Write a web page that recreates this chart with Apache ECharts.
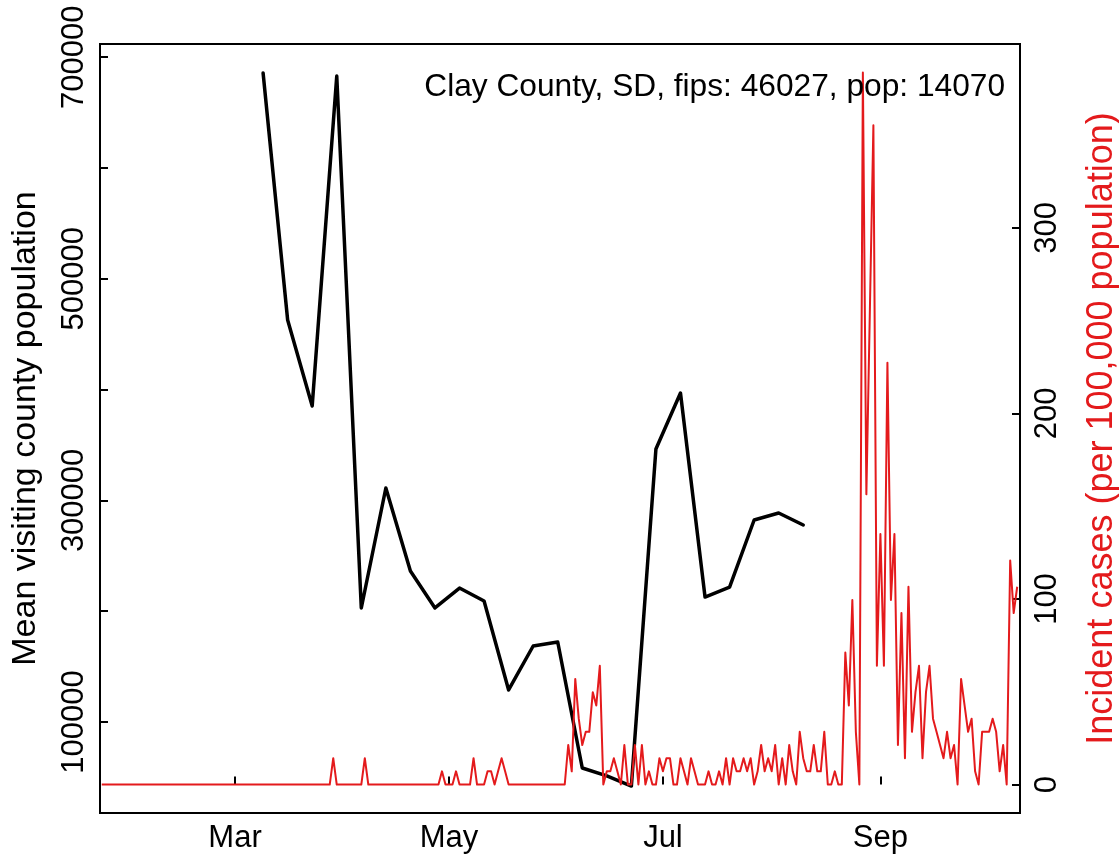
<!DOCTYPE html>
<html><head><meta charset="utf-8">
<script src="https://cdn.jsdelivr.net/npm/echarts@6/dist/echarts.min.js"></script>
<style>html,body{margin:0;padding:0;background:#fff}#c{width:1119px;height:858px}</style>
</head><body><div id="c"></div>
<script>
const titleText = "Clay County, SD, fips: 46027, pop: 14070";
const leftAxisName = "Mean visiting county population";
const rightAxisName = "Incident cases (per 100,000 population)";

// weekly mean visiting county population (black line)
const visitDates = ["2020-03-09","2020-03-16","2020-03-23","2020-03-30","2020-04-06","2020-04-13",
  "2020-04-20","2020-04-27","2020-05-04","2020-05-11","2020-05-18","2020-05-25","2020-06-01",
  "2020-06-08","2020-06-15","2020-06-22","2020-06-29","2020-07-06","2020-07-13","2020-07-20",
  "2020-07-27","2020-08-03","2020-08-10"];
const visitValues = [685700,462800,385200,683000,202900,311200,236300,202900,220900,209200,
  128900,168600,172200,58500,51300,42200,346400,396900,212800,221800,282300,288600,277800];

// daily incident cases per 100,000 (red line), starting at caseStartDate
const caseStartDate = "2020-01-23";
const caseValues = [
  0,0,0,0,0,0,0,0,0,0, 0,0,0,0,0,0,0,0,0,0, 0,0,0,0,0,0,0,0,0,0,
  0,0,0,0,0,0,0,0,0,0, 0,0,0,0,0,0,0,0,0,0, 0,0,0,0,0,0,0,0,0,0,
  0,0,0,0,0,0,
  14.2, 0,0,0,0,0,0,0,0, 14.2,
  0,0,0,0,0,0,0,0,0,0, 0,0,0,0,0,0,0,0,0,0, 0,
  7.1, 0,0,0, 7.1, 0,0,0,0, 14.2, 0,0,0,
  7.1,7.1,0,7.1,14.2,7.1,
  0,0,0,0,0,0,0,0,0,0, 0,0,0,0,0,0,0,
  21.3,7.1,56.9,35.5,21.3,28.4,28.4,49.8,42.6,64.0,
  0,7.1,7.1,14.2,7.1,0,21.3,0,0,21.3,
  0,21.3,0,7.1,0,0,14.2,7.1,14.2,14.2,
  0,0,14.2,7.1,0,14.2,7.1,0,0,0,
  7.1,0,0,7.1,0,14.2,0,14.2,7.1,7.1,
  14.2,7.1,14.2,0,7.1,21.3,7.1,14.2,7.1,21.3,
  0,14.2,0,21.3,7.1,0,28.4,14.2,7.1,7.1,
  21.3,7.1,7.1,28.4,0,0,7.1,0,0,71.1,
  42.6,99.5,28.4,0,383.8,156.4,255.9,355.4,64.0,135.0,
  64.0,227.4,99.5,135.0,21.3,92.4,14.2,106.6,28.4,49.8,
  64.0,14.2,49.8,64.0,35.5,28.4,21.3,14.2,28.4,14.2,
  21.3,0,56.9,42.6,28.4,35.5,7.1,0,28.4,28.4,
  28.4,35.5,28.4,7.1,21.3,0,120.8,92.4,106.6
];

const xTickDates = ["2020-03-01","2020-05-01","2020-07-01","2020-09-01"];
const xTickLabels = ["Mar","May","Jul","Sep"];
const leftTickValues = [100000,200000,300000,400000,500000,600000,700000];
const leftLabelValues = [100000,300000,500000,700000];
const rightTickValues = [0,100,200,300];

const DAY = 864e5, ORIGIN = Date.UTC(2020,0,1);
const dayOf = s => (Date.parse(s + "T00:00:00Z") - ORIGIN) / DAY;
const visitData = visitDates.map((d,i) => [dayOf(d), visitValues[i]]);
const caseStart = dayOf(caseStartDate);
const caseData = caseValues.map((v,i) => [caseStart + i, v]);
const xTickDays = xTickDates.map(dayOf);

const FONT = "'Liberation Sans', Arial, Helvetica, sans-serif";
const FS = 31;
const chart = echarts.init(document.getElementById('c'), null, {renderer:'canvas'});
chart.setOption({
  animation: false,
  backgroundColor: '#fff',
  textStyle: {fontFamily: FONT},
  title: {
    text: titleText, right: 114, top: 71, padding: 0,
    textStyle: {fontFamily: FONT, fontSize: 31.7, fontWeight: 'normal', color: '#000'}
  },
  grid: {left: 100, right: 99, top: 44, bottom: 45, show: true, borderColor: '#000', borderWidth: 2,
    backgroundColor: 'transparent', containLabel: false, outerBoundsMode: 'none'},
  xAxis: {
    type: 'value', min: 21.5, max: 283.8,
    axisLine: {show: false},
    splitLine: {show: false},
    axisTick: {show: true, inside: true, length: 8, lineStyle: {color: '#000', width: 2}, customValues: xTickDays},
    axisLabel: {show: true, margin: 10, fontSize: FS, fontFamily: FONT, color: '#000', customValues: xTickDays,
      formatter: v => { const i = xTickDays.indexOf(v); return i >= 0 ? xTickLabels[i] : ''; }}
  },
  yAxis: [{
    type: 'value', position: 'left', min: 17870, max: 711900,
    name: leftAxisName, nameLocation: 'middle', nameGap: 57, nameRotate: 90,
    nameTextStyle: {fontFamily: FONT, fontSize: 34, color: '#000'},
    axisLine: {show: false}, splitLine: {show: false},
    axisTick: {show: true, inside: true, length: 8, lineStyle: {color: '#000', width: 2}, customValues: leftTickValues},
    axisLabel: {show: true, rotate: 90, margin: 10, fontSize: FS, fontFamily: FONT, color: '#000', customValues: leftLabelValues,
      formatter: v => String(v)}
  }, {
    type: 'value', position: 'right', min: -15.35, max: 399.15,
    name: rightAxisName, nameLocation: 'middle', nameGap: 64, nameRotate: 90,
    nameTextStyle: {fontFamily: FONT, fontSize: 36, color: '#E41A1C'},
    axisLine: {show: false}, splitLine: {show: false},
    axisTick: {show: true, inside: true, length: 8, lineStyle: {color: '#000', width: 2}, customValues: rightTickValues},
    axisLabel: {show: true, rotate: 90, margin: 12, fontSize: FS, fontFamily: FONT, color: '#000', customValues: rightTickValues,
      formatter: v => String(v)}
  }],
  series: [{
    type: 'line', yAxisIndex: 0, data: visitData, showSymbol: false, symbol: 'none', z: 2,
    lineStyle: {color: '#000', width: 3.5, cap: 'round', join: 'round'}
  }, {
    type: 'line', yAxisIndex: 1, data: caseData, showSymbol: false, symbol: 'none', z: 3,
    lineStyle: {color: '#E41A1C', width: 2, join: 'round'}
  }]
});
</script></body></html>
